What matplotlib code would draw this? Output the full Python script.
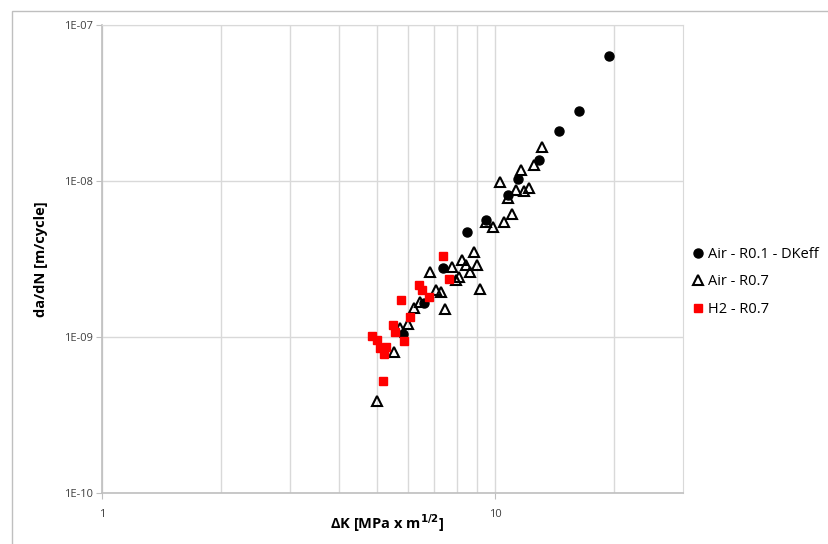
import numpy as np
import matplotlib
matplotlib.use("Agg")
import matplotlib.pyplot as plt
from matplotlib.ticker import FixedLocator, FixedFormatter, NullFormatter
from matplotlib.patches import Rectangle

# Air - R0.1 - DKeff
dk_r01 = [19.53, 16.35, 14.56, 12.95, 11.45, 10.78, 9.475, 8.477, 7.376, 6.598, 5.806]
dadn_r01 = [6.355e-8, 2.808e-8, 2.081e-8, 1.355e-8, 1.028e-8, 8.08e-9, 5.65e-9, 4.73e-9,
            2.78e-9, 1.655e-9, 1.042e-9]

# Air - R0.7
dk_air07 = [13.12, 12.58, 11.61, 10.28, 11.30, 11.84, 12.21, 10.75, 11.02, 10.54, 9.85,
            8.83, 8.23, 8.42, 8.99, 7.78, 6.82, 8.60, 8.10, 7.96, 9.13, 7.08, 7.27, 7.46,
            6.43, 6.20, 6.01, 5.71, 5.53, 4.99, 9.49]
dadn_air07 = [1.657e-8, 1.261e-8, 1.169e-8, 9.88e-9, 8.74e-9, 8.61e-9, 9.05e-9, 7.82e-9,
              6.13e-9, 5.43e-9, 5.08e-9, 3.50e-9, 3.13e-9, 2.89e-9, 2.89e-9, 2.82e-9,
              2.59e-9, 2.59e-9, 2.42e-9, 2.30e-9, 2.04e-9, 1.99e-9, 1.94e-9, 1.515e-9,
              1.672e-9, 1.519e-9, 1.212e-9, 1.139e-9, 8.02e-10, 3.88e-10, 5.45e-9]

# H2 - R0.7
dk_h2 = [7.35, 7.64, 6.41, 6.52, 6.78, 5.75, 6.07, 5.50, 5.56, 5.86, 4.86, 4.99, 5.08,
         5.27, 5.22, 5.18]
dadn_h2 = [3.31e-9, 2.35e-9, 2.165e-9, 2.00e-9, 1.808e-9, 1.714e-9, 1.345e-9, 1.185e-9,
           1.078e-9, 9.40e-10, 1.019e-9, 9.54e-10, 8.44e-10, 8.60e-10, 7.73e-10, 5.23e-10]

y_ticks = [1e-10, 1e-9, 1e-8, 1e-7]
y_labels = ["1E-10", "1E-09", "1E-08", "1E-07"]
x_ticks = [1, 10]
x_labels = ["1", "10"]
x_minor = [2, 3, 4, 5, 6, 7, 8, 9, 20]

plt.rcParams.update({
    "font.family": ["Open Sans", "DejaVu Sans"],
    "font.size": 9,
})

fig = plt.figure(figsize=(8.29, 5.44), dpi=100)
ax = fig.add_axes([102.5/829, 1-492.7/544, (682.7-102.5)/829, (492.7-25)/544])

# outer chart frame
fig.patches.append(Rectangle((12/829, -0.1), 1.2, 1.1 - 11/544, transform=fig.transFigure,
                             fill=False, edgecolor="#bfbfbf", linewidth=1.0, clip_on=False))

ax.plot(dk_r01, dadn_r01, "o", color="black", markersize=6.5, linestyle="none",
        label="Air - R0.1 - DKeff", zorder=3)
ax.plot(dk_air07, dadn_air07, "^", markerfacecolor="none", markeredgecolor="black",
        markeredgewidth=1.5, markersize=6.5, linestyle="none", label="Air - R0.7", zorder=4)
ax.plot(dk_h2, dadn_h2, "s", color="#ff0000", markersize=6, linestyle="none",
        label="H2 - R0.7", zorder=5)

ax.set_xscale("log")
ax.set_yscale("log")
ax.set_xlim(1, 30)
ax.set_ylim(1e-10, 1e-7)

ax.xaxis.set_major_locator(FixedLocator(x_ticks))
ax.xaxis.set_major_formatter(FixedFormatter(x_labels))
ax.xaxis.set_minor_locator(FixedLocator(x_minor))
ax.xaxis.set_minor_formatter(NullFormatter())
ax.yaxis.set_major_locator(FixedLocator(y_ticks))
ax.yaxis.set_major_formatter(FixedFormatter(y_labels))
ax.yaxis.set_minor_locator(FixedLocator([]))

ax.grid(which="both", axis="x", color="#d9d9d9", linewidth=1.0)
ax.grid(which="major", axis="y", color="#d9d9d9", linewidth=1.0)
ax.set_axisbelow(True)

for s in ["top", "right"]:
    ax.spines[s].set_color("#d9d9d9")
for s in ["left", "bottom"]:
    ax.spines[s].set_color("#bfbfbf")
    ax.spines[s].set_linewidth(1.2)

ax.tick_params(axis="both", which="major", length=4, color="#bfbfbf", labelsize=8,
               labelcolor="#404040", pad=3)
ax.tick_params(axis="x", which="minor", length=0)
ax.tick_params(axis="x", which="major", pad=8)

ax.set_ylabel("da/dN [m/cycle]", fontsize=10.5, fontweight="bold", va="center")
ax.yaxis.set_label_coords((41 - 102.5) / 580.2, 0.5)
ax.set_xlabel(r"ΔK [MPa x m$^{\mathbf{1/2}}$]", fontsize=10.5, fontweight="bold", va="center")
ax.xaxis.set_label_coords(0.49, -(523 - 492.7) / 467.7)

fig.legend(loc="center left", bbox_to_anchor=(683/829, 1-282/544), frameon=False,
           fontsize=10.5, handletextpad=0.1, labelspacing=0.85, handlelength=1.2,
           borderaxespad=0)

fig.savefig("out.png", dpi=100)
